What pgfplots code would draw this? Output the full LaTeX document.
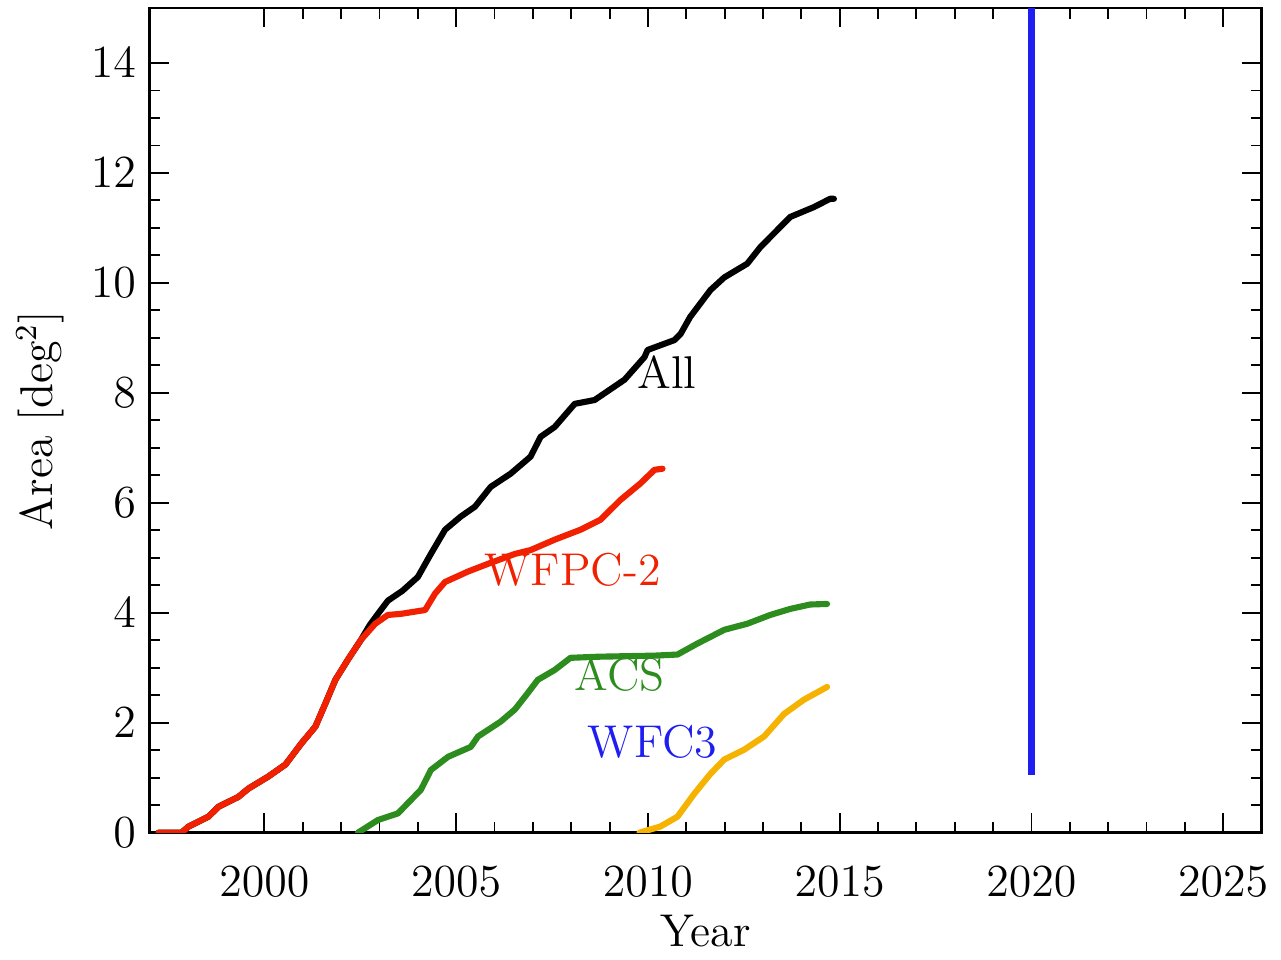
\documentclass[border=0pt]{standalone}
\usepackage{pgfplots}
\pgfplotsset{compat=1.18}
\definecolor{cred}{RGB}{240,32,0}
\definecolor{cgreen}{RGB}{45,140,30}
\definecolor{corange}{RGB}{246,178,0}
\definecolor{cblue}{RGB}{30,30,240}
\begin{document}
\begin{tikzpicture}
\begin{axis}[
  name=ax,
  scale only axis,
  width=290.4pt, height=215.3pt,
  xmin=1997, xmax=2026, ymin=0, ymax=15,
  xtick={2000,2005,...,2025},
  minor x tick num=4,
  ytick={0,2,...,14},
  minor y tick num=3,
  tick align=inside,
  major tick length=5pt, minor tick length=2.8pt,
  axis line style={line width=0.6pt},
  every tick/.style={black, line width=0.5pt},
  x tick label style={/pgf/number format/1000 sep={}, anchor=center, yshift=-12.7pt},
  tick label style={font=\fontsize{12}{14}\selectfont},
  label style={font=\fontsize{12}{14}\selectfont},
  xlabel={Year},
  ylabel={Area [deg$^2$]},
  xlabel style={at={(axis description cs:0.5,-0.119)}, anchor=center},
  ylabel style={at={(axis description cs:-0.098,0.5)}, anchor=center},
  every axis plot/.append style={line width=1.6pt, line join=round, line cap=round},
  clip=true,
]
% All
\addplot[black] coordinates {
(1997.24,0) (1997.84,0) (1998.02,0.11) (1998.54,0.29) (1998.8,0.47) (1999.32,0.65)
(1999.58,0.80) (2000.1,1.02) (2000.55,1.24) (2000.96,1.62) (2001.33,1.93) (2001.59,2.35)
(2001.85,2.78) (2002.18,3.15) (2002.52,3.51) (2002.75,3.78) (2002.96,3.98) (2003.22,4.22)
(2003.6,4.40) (2004.0,4.65) (2004.34,5.07) (2004.71,5.51) (2005.12,5.75) (2005.49,5.93)
(2005.9,6.29) (2006.42,6.53) (2006.94,6.84) (2007.2,7.2) (2007.57,7.38) (2008.09,7.8)
(2008.61,7.87) (2009.39,8.24) (2009.91,8.65) (2009.99,8.78) (2010.69,8.96) (2010.85,9.07)
(2011.1,9.38) (2011.63,9.87) (2011.99,10.1) (2012.59,10.35) (2012.93,10.65) (2013.37,10.96)
(2013.71,11.2) (2014.33,11.38) (2014.75,11.53) (2014.85,11.53)
};
% WFPC-2
\addplot[cred] coordinates {
(1997.24,0) (1997.84,0) (1998.02,0.11) (1998.54,0.29) (1998.8,0.47) (1999.32,0.65)
(1999.58,0.80) (2000.1,1.02) (2000.55,1.24) (2000.96,1.62) (2001.33,1.93) (2001.59,2.35)
(2001.85,2.78) (2002.18,3.15) (2002.52,3.51) (2002.89,3.80) (2003.22,3.96) (2003.56,3.98)
(2004.19,4.05) (2004.45,4.35) (2004.71,4.56) (2005.31,4.75) (2005.83,4.89) (2006.53,5.07)
(2006.94,5.14) (2007.57,5.33) (2008.24,5.51) (2008.76,5.69) (2009.28,6.05) (2009.8,6.35)
(2010.17,6.6) (2010.38,6.62)
};
% ACS
\addplot[cgreen] coordinates {
(2002.44,0) (2002.96,0.23) (2003.48,0.35) (2004.08,0.78) (2004.34,1.14) (2004.79,1.38)
(2005.38,1.56) (2005.57,1.75) (2006.16,2.02) (2006.53,2.24) (2006.79,2.47) (2007.13,2.78)
(2007.57,2.96) (2007.98,3.18) (2008.69,3.2) (2010.17,3.22) (2010.77,3.24) (2011.29,3.44)
(2011.99,3.69) (2012.59,3.8) (2013.19,3.96) (2013.71,4.07) (2014.23,4.15) (2014.67,4.16)
};
% WFC3
\addplot[corange] coordinates {
(2009.78,0.0) (2010.32,0.11) (2010.77,0.29) (2011.21,0.71) (2011.63,1.07) (2011.99,1.33)
(2012.51,1.51) (2013.03,1.75) (2013.55,2.16) (2014.07,2.42) (2014.67,2.65)
};
% vertical line
\addplot[cblue, line cap=butt] coordinates {(2020,1.05) (2020,15)};
\node[font=\fontsize{12}{14}\selectfont] at (axis cs:2010.5,8.38) {All};
\node[font=\fontsize{12}{14}\selectfont, text=cred] at (axis cs:2008.04,4.78) {WFPC-2};
\node[font=\fontsize{12}{14}\selectfont, text=cgreen] at (axis cs:2009.26,2.87) {ACS};
\node[font=\fontsize{12}{14}\selectfont, text=cblue] at (axis cs:2010.12,1.65) {WFC3};
\end{axis}
\path ([shift={(-39pt,-30.9pt)}]ax.south west) rectangle ([shift={(3.4pt,2.1pt)}]ax.north east);
\end{tikzpicture}
\end{document}
